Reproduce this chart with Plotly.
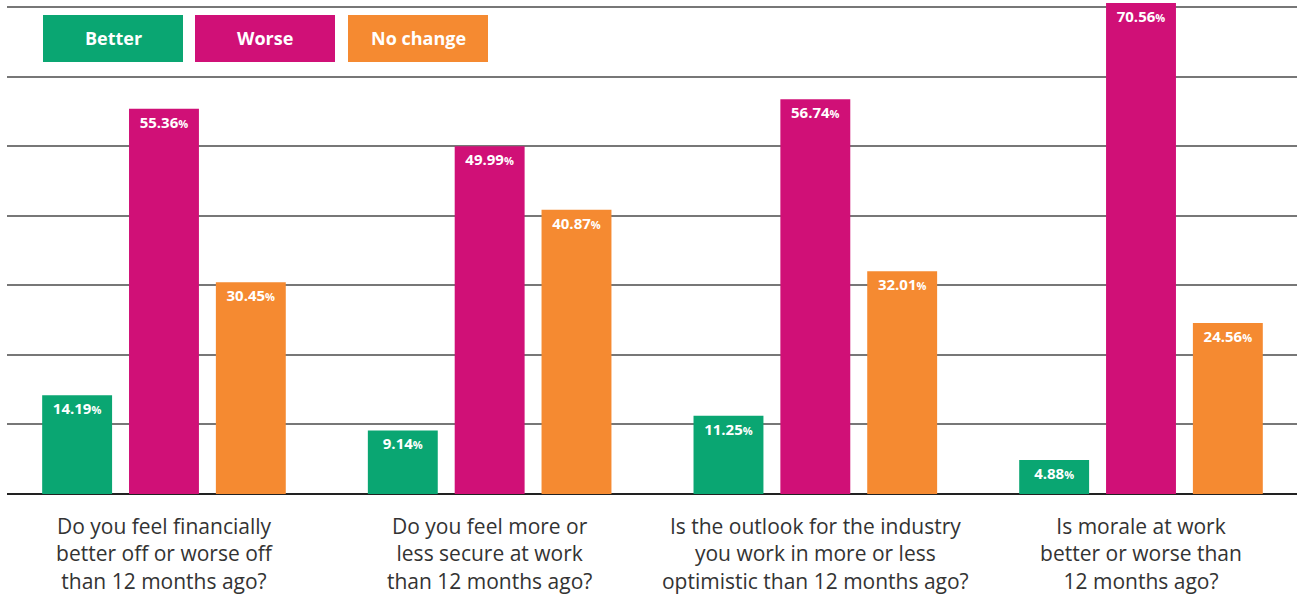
import plotly.graph_objects as go

categories = [
    "Do you feel financially<br>better off or worse off<br>than 12 months ago?",
    "Do you feel more or<br>less secure at work<br>than 12 months ago?",
    "Is the outlook for the industry<br>you work in more or less<br>optimistic than 12 months ago?",
    "Is morale at work<br>better or worse than<br>12 months ago?",
]
series_names = ["Better", "Worse", "No change"]
better = [14.19, 9.14, 11.25, 4.88]
worse = [55.36, 49.99, 56.74, 70.56]
no_change = [30.45, 40.87, 32.01, 24.56]
colors = ["#0aa672", "#d01077", "#f58a31"]

W, H = 1297, 595
ML, MR, MT, MB = 7, 0, 0, 101
PW, PH = W - ML - MR, H - MT - MB

FONT = "Open Sans"

def labels(vals):
    return [f"<b>{v:.2f}</b><span style='font-size:11px'><b>%</b></span>" for v in vals]

fig = go.Figure()
for name, vals, col in zip(series_names, [better, worse, no_change], colors):
    fig.add_trace(go.Bar(
        x=categories, y=vals, name=name, marker=dict(color=col, line=dict(width=0)),
        text=labels(vals), textposition="inside", insidetextanchor="end",
        textangle=0, textfont=dict(family=FONT, size=15, color="white"),
        constraintext="none", hoverinfo="skip", showlegend=False,
    ))

fig.update_layout(
    width=W, height=H, barmode="group", bargap=0.2, bargroupgap=0.195,
    margin=dict(l=ML, r=MR, t=MT, b=MB),
    paper_bgcolor="white", plot_bgcolor="white",
    font=dict(family=FONT, color="#333333"),
    uniformtext=dict(mode=False),
)
fig.update_xaxes(
    range=[-0.482, 3.479], showgrid=False, showline=False, ticks="",
    tickfont=dict(family=FONT, size=21, color="#333333"),
    ticklabelstandoff=18,
)
fig.update_yaxes(
    range=[0, 71.0], dtick=10, showgrid=True, gridcolor="#777777", gridwidth=1.5,
    zeroline=True, zerolinecolor="#222222", zerolinewidth=2,
    showticklabels=False, ticks="",
)

# legend key boxes (pixel positions converted to paper coords)
def px_x(p):
    return (p - ML) / PW

def px_y(p):
    return (H - MB - p) / PH

boxes = [(43, 183), (195, 335), (348, 488)]
for (x0, x1), name, col in zip(boxes, series_names, colors):
    fig.add_shape(type="rect", xref="paper", yref="paper",
                  x0=px_x(x0), x1=px_x(x1), y0=px_y(62), y1=px_y(15),
                  fillcolor=col, line=dict(width=0), layer="above")
    fig.add_annotation(xref="paper", yref="paper", x=px_x((x0 + x1) / 2), y=px_y(38.5),
                       text=f"<b>{name}</b>", showarrow=False,
                       font=dict(family=FONT, size=18, color="white"),
                       xanchor="center", yanchor="middle")

fig.write_html("out.html")
